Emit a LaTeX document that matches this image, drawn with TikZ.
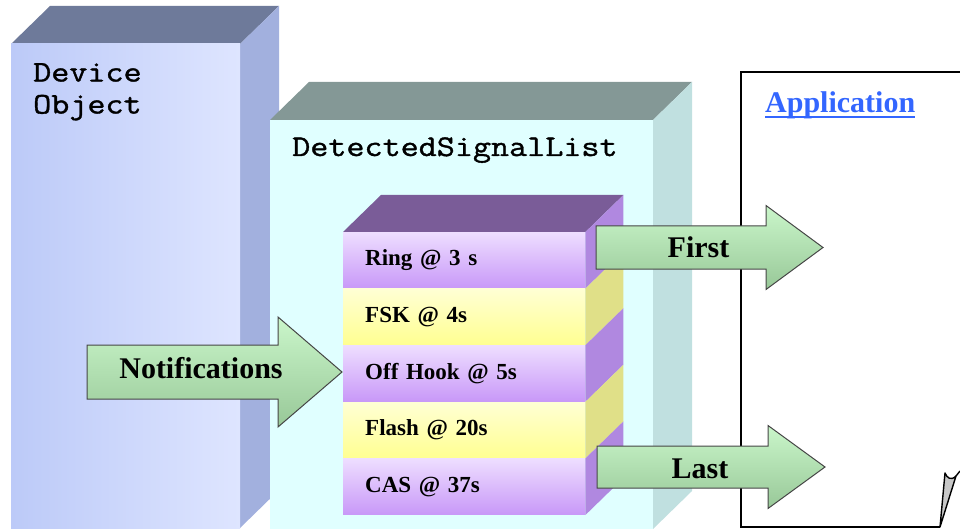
\documentclass[tikz,border=0pt]{standalone}
\usepackage{fontspec}
\setmainfont{Liberation Serif}
\newfontfamily\boxmono{Latin Modern Mono}[FakeStretch=1.17, FakeBold=1.2]
\usetikzlibrary{calc}

% palette
\definecolor{devfrontL}{RGB}{188,202,248}
\definecolor{devfrontR}{RGB}{222,229,255}
\definecolor{devtop}{RGB}{110,122,154}
\definecolor{devside}{RGB}{162,176,222}
\definecolor{dslfront}{RGB}{224,255,255}
\definecolor{dsltop}{RGB}{132,152,150}
\definecolor{dslside}{RGB}{192,224,224}
\definecolor{stacktop}{RGB}{122,92,152}
\definecolor{purpleside}{RGB}{176,136,224}
\definecolor{yellowside}{RGB}{224,224,136}
\definecolor{purpletop}{RGB}{238,222,255}
\definecolor{purplebot}{RGB}{200,152,248}
\definecolor{yellowtop}{RGB}{255,255,212}
\definecolor{yellowbot}{RGB}{255,255,145}
\definecolor{arrowtop}{RGB}{202,246,202}
\definecolor{arrowbot}{RGB}{152,200,152}
\definecolor{arrowline}{RGB}{70,70,70}
\definecolor{appblue}{RGB}{51,102,255}

\newcommand\layerfont{\fontsize{23}{27}\selectfont\bfseries}
\newcommand\arrowfont{\fontsize{30}{34}\selectfont\bfseries}
\newcommand\boxfont{\fontsize{30}{32}\selectfont\boxmono}

% block arrow: x0, ymid, xneck, xtip, half shaft, half head
\newcommand\blockarrow[6]{%
  \path[arrowshape] (#1,#2-#5) -- (#3,#2-#5) -- (#3,#2-#6) -- (#4,#2)
    -- (#3,#2+#6) -- (#3,#2+#5) -- (#1,#2+#5) -- cycle;}

\tikzset{
  layer/.style={anchor=north west, minimum height=56.2pt, text width=198pt,
    inner xsep=22pt, inner ysep=0pt, align=left, font=\layerfont,
    text height=16pt, text depth=5pt},
  purplelayer/.style={layer, top color=purpletop, bottom color=purplebot},
  yellowlayer/.style={layer, top color=yellowtop, bottom color=yellowbot},
  arrowshape/.style={top color=arrowtop, bottom color=arrowbot,
    draw=arrowline, line width=1pt, line join=miter},
  arrowtext/.style={anchor=base, inner sep=0pt, font=\arrowfont},
  boxtext/.style={inner sep=0pt, font=\boxfont},
  pageline/.style={draw=black, line width=2pt, line join=miter}
}

\begin{document}
\begin{tikzpicture}[x=1pt, y=-1pt]
\useasboundingbox (0,0) rectangle (960,529);
\clip (0,0) rectangle (960,529);

% Device Object block
\fill[devtop] (11,44) -- (50,6) -- (279,6) -- (240,44) -- cycle;
\fill[devside] (240,44) -- (279,6) -- (279,490) -- (240,528) -- cycle;
\shade[left color=devfrontL, right color=devfrontR] (11,44) rectangle (240,528);
\node[boxtext, anchor=north west, align=left] (device) at (33,63) {Device\\Object};

% DetectedSignalList block
\fill[dsltop] (270,120) -- (309,82) -- (692,82) -- (653,120) -- cycle;
\fill[dslside] (653,120) -- (692,82) -- (692,491) -- (653,529) -- cycle;
\fill[dslfront] (270,120) rectangle (653,529);
\node[boxtext, anchor=base west] (dsl) at (292,156) {DetectedSignalList};

% signal stack
\node[purplelayer] (ring) at (343,232) {Ring @ 3 s};
\node[yellowlayer] (fsk) at (ring.south west) {FSK @ 4s};
\node[purplelayer] (offhook) at (fsk.south west) {Off Hook @ 5s};
\node[yellowlayer] (flash) at (offhook.south west) {Flash @ 20s};
\node[purplelayer] (cas) at (flash.south west) {CAS @ 37s};

\fill[stacktop] (ring.north west) -- ++(38,-37) -- ($(ring.north east)+(38,-37)$)
  -- (ring.north east) -- cycle;
\foreach \n/\c in {ring/purpleside, fsk/yellowside, offhook/purpleside,
                   flash/yellowside, cas/purpleside}
  \fill[\c] (\n.north east) -- ++(38,-37) -- ($(\n.south east)+(38,-37)$)
    -- (\n.south east) -- cycle;

% incoming notifications
\blockarrow{87}{372}{278}{342}{27}{55}
\node[arrowtext] (notif) at (201,378) {Notifications};

% application page with curled corner
\draw[pageline] (960,72) -- (741,72) -- (741,527) -- (940,527);
\filldraw[fill=black!22, draw=black, line width=1.4pt, line join=round]
  (940,527) -- (945,473) .. controls (947,478) and (951,481) .. (956,476)
  -- cycle;
\draw[black, line width=1.4pt] (956,476) -- (960,471);
\node[anchor=base west, inner sep=0pt, text=appblue,
  font=\fontsize{30}{34}\selectfont\bfseries] (app) at (765,113) {Application};
\draw[appblue, line width=2pt] ([yshift=-4pt]app.base west) -- ([yshift=-4pt]app.base east);

% outgoing first / last
\blockarrow{596}{247.5}{766}{823}{21.5}{42}
\node[arrowtext] (first) at (698.5,258) {First};
\blockarrow{597}{467}{768}{825}{21}{41.5}
\node[arrowtext] (last) at (700,478) {Last};
\end{tikzpicture}
\end{document}
